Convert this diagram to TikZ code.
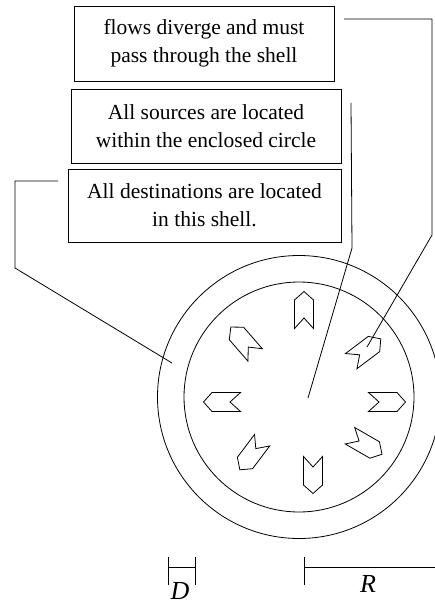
\documentclass[tikz,border=0pt]{standalone}
\usepackage{fontspec}
\setmainfont{Liberation Serif}
\begin{document}
\begin{tikzpicture}[x=1pt,y=-1pt,
  lbl/.style={draw,line width=0.8pt,align=center,inner sep=0pt,font=\fontsize{21.5}{28}\selectfont},
  conn/.style={line width=0.8pt},
  dimlbl/.style={font=\fontsize{26}{26}\selectfont\itshape,inner sep=0pt},
  notcharrow/.pic={\draw[line width=0.8pt] (18.5,0) -- (10,9.5) -- (-18.5,9.5) -- (-8,0) -- (-18.5,-9.5) -- (10,-9.5) -- cycle;}]
\useasboundingbox (0,0) rectangle (435,604);
% boxes
\node[lbl,minimum width=260pt,minimum height=75pt] (b1) at (204,43.5) {flows diverge and must\\pass through the shell};
\node[lbl,minimum width=270pt,minimum height=74pt] (b2) at (206,126) {All sources are located\\within the enclosed circle};
\node[lbl,minimum width=273pt,minimum height=73pt] (b3) at (204.5,205.5) {All destinations are located\\in this shell.};
% circles
\coordinate (c) at (299,397);
\draw[line width=0.8pt] (c) circle[radius=141.5];
\draw[line width=0.8pt] (c) circle[radius=115];
% arrows
\pic[rotate=90] at (304,310) {notcharrow};
\pic[rotate=37] at (366,350) {notcharrow};
\pic[rotate=0] at (387,402) {notcharrow};
\pic[rotate=-30] at (366,445) {notcharrow};
\pic[rotate=-90] at (313,475) {notcharrow};
\pic[rotate=-127] at (251,455) {notcharrow};
\pic[rotate=180] at (222,402) {notcharrow};
\pic[rotate=131] at (243,341) {notcharrow};
% connector ends
\coordinate (s1) at (344,19);
\coordinate (k1a) at (432,19);
\coordinate (k1b) at (432,235);
\coordinate (e1) at (367,347);
\coordinate (s2) at (351,103);
\coordinate (k2) at (352,248);
\coordinate (e2) at (308,398);
\coordinate (s3) at (58,181);
\coordinate (k3a) at (15,181);
\coordinate (k3b) at (15,268);
\coordinate (e3) at (172,363);
\draw[conn] (s1) -- (k1a) -- (k1b) -- (e1);
\draw[conn] (s2) -- (k2) -- (e2);
\draw[conn] (s3) -- (k3a) -- (k3b) -- (e3);
% dimensions
\coordinate (d1) at (168,567);
\coordinate (d2) at (195,567);
\draw[conn] (168,557) -- (168,585);
\draw[conn] (195,557) -- (195,585);
\draw[conn] (d1) -- (d2);
\node[dimlbl] (D) at (180,591) {D};
\coordinate (r1) at (304,567);
\coordinate (r2) at (435,567);
\draw[conn] (304,557) -- (304,585);
\draw[conn] (r1) -- (r2);
\node[dimlbl] (R) at (368,584) {R};
\end{tikzpicture}
\end{document}
